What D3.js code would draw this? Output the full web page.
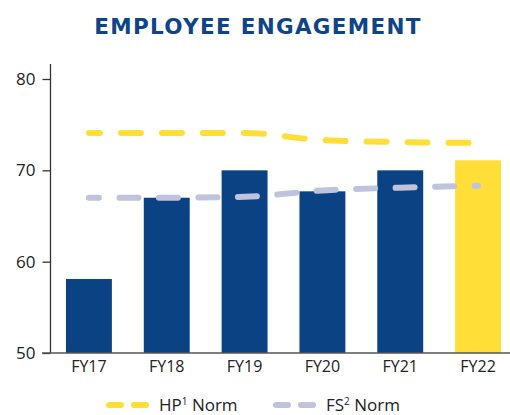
<!DOCTYPE html>
<html>
<head>
<meta charset="utf-8">
<script src="https://cdn.jsdelivr.net/npm/d3@7"></script>
<style>
  body { margin: 0; background: #fff; }
  svg text { font-family: "Open Sans", Lato, sans-serif; }
</style>
</head>
<body>
<div id="chart"></div>
<script>
var years = ["FY17", "FY18", "FY19", "FY20", "FY21", "FY22"];
var engagement = [58.1, 67.0, 70.0, 67.7, 70.0, 71.1];
var hpNorm = [74.1, 74.1, 74.1, 73.3, 73.1, 73.0];
var fsNorm = [67.0, 67.0, 67.1, 67.8, 68.1, 68.3];
var yTicks = [50, 60, 70, 80];

var width = 510, height = 415;
var navy = "#0b4283", yellow = "#ffdf37", lavender = "#c0c3dc";

var svg = d3.select("#chart").append("svg")
    .attr("width", width)
    .attr("height", height);

var x = d3.scaleBand()
    .domain(years)
    .range([50, 517])
    .paddingInner(0.41)
    .paddingOuter(0.205);

var y = d3.scaleLinear()
    .domain([50, 80])
    .range([353, 79]);

// title
svg.append("text")
    .attr("x", 258)
    .attr("y", 34)
    .attr("text-anchor", "middle")
    .style("font-family", "'DejaVu Sans', sans-serif")
    .style("font-weight", 700)
    .style("font-size", "21.5px")
    .style("letter-spacing", "1.3px")
    .style("fill", "#0e4488")
    .text("EMPLOYEE ENGAGEMENT");

// bars
svg.append("g")
    .selectAll("rect")
    .data(engagement)
    .enter()
    .append("rect")
    .attr("x", function (d, i) { return x(years[i]); })
    .attr("y", function (d) { return y(d); })
    .attr("width", x.bandwidth())
    .attr("height", function (d) { return y(50) - y(d); })
    .attr("fill", function (d, i) { return i === years.length - 1 ? yellow : navy; });

// norm lines
var line = d3.line()
    .x(function (d, i) { return x(years[i]) + x.bandwidth() / 2; })
    .y(function (d) { return y(d); })
    .curve(d3.curveMonotoneX);

svg.append("path")
    .datum(fsNorm)
    .attr("d", line)
    .attr("fill", "none")
    .attr("stroke", lavender)
    .attr("stroke-width", 6)
    .attr("stroke-linecap", "round")
    .attr("stroke-dasharray", "19,20.5")
    .attr("stroke-dashoffset", 9);

svg.append("path")
    .datum(hpNorm)
    .attr("d", line)
    .attr("fill", "none")
    .attr("stroke", yellow)
    .attr("stroke-width", 6)
    .attr("stroke-linecap", "round")
    .attr("stroke-dasharray", "20,21")
    .attr("stroke-dashoffset", 9);

// y axis
var yAxis = svg.append("g")
    .attr("transform", "translate(50.5,0)")
    .call(d3.axisLeft(y).tickValues(yTicks).tickSize(8).tickPadding(7));
yAxis.select(".domain").remove();
yAxis.selectAll(".tick line").attr("stroke", "#333").attr("stroke-width", 1.3);
yAxis.selectAll(".tick text")
    .style("font-size", "17px")
    .style("fill", "#222");

svg.append("line")
    .attr("x1", 50.5).attr("x2", 50.5)
    .attr("y1", y(50)).attr("y2", 64)
    .attr("stroke", "#333").attr("stroke-width", 1.3);

// x axis
var xAxis = svg.append("g")
    .attr("transform", "translate(0," + y(50) + ")")
    .call(d3.axisBottom(x).tickSize(0).tickPadding(8));
xAxis.select(".domain").remove();
xAxis.selectAll(".tick text")
    .style("font-size", "16px")
    .style("fill", "#222");

svg.append("line")
    .attr("x1", 42).attr("x2", 510)
    .attr("y1", y(50)).attr("y2", y(50))
    .attr("stroke", "#555").attr("stroke-width", 1.3);

// legend
var legendItems = [
    { label: "HP", sup: "1", color: yellow, x: 107 },
    { label: "FS", sup: "2", color: lavender, x: 274 }
];

var legend = svg.append("g").selectAll("g")
    .data(legendItems)
    .enter()
    .append("g")
    .attr("transform", function (d) { return "translate(" + d.x + ",405)"; });

legend.append("line")
    .attr("x1", 2).attr("x2", 42)
    .attr("y1", 0).attr("y2", 0)
    .attr("stroke", function (d) { return d.color; })
    .attr("stroke-width", 6)
    .attr("stroke-linecap", "round")
    .attr("stroke-dasharray", "12,13");

var legendText = legend.append("text")
    .attr("x", 52)
    .attr("y", 5.5)
    .style("font-size", "17px")
    .style("fill", "#222");
legendText.append("tspan").text(function (d) { return d.label; });
legendText.append("tspan")
    .attr("dy", -6)
    .style("font-size", "10px")
    .text(function (d) { return d.sup; });
legendText.append("tspan")
    .attr("dy", 6)
    .text(" Norm");
</script>
</body>
</html>
